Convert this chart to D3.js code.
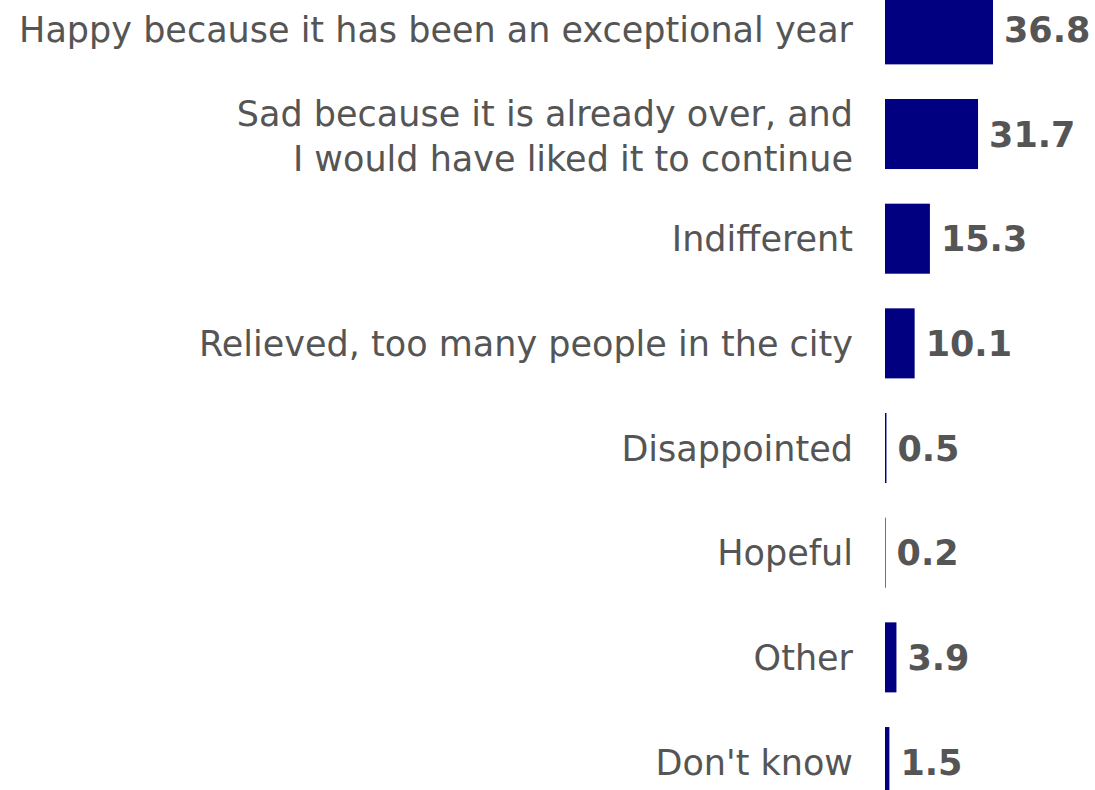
<!DOCTYPE html>
<html>
<head>
<meta charset="utf-8">
<script src="https://cdn.jsdelivr.net/npm/d3@7"></script>
<style>
  html, body { margin: 0; padding: 0; background: #fff; }
  svg { display: block; }
</style>
</head>
<body>
<svg id="chart" width="1095" height="790"></svg>
<script>
// Survey answers and their shares (%)
const categories = [
  "Happy because it has been an exceptional year",
  "Sad because it is already over, and\nI would have liked it to continue",
  "Indifferent",
  "Relieved, too many people in the city",
  "Disappointed",
  "Hopeful",
  "Other",
  "Don't know"
];
const values = [36.8, 31.7, 15.3, 10.1, 0.5, 0.2, 3.9, 1.5];
const valueLabels = ["36.8", "31.7", "15.3", "10.1", "0.5", "0.2", "3.9", "1.5"];

const svg = d3.select("#chart");
const fontFamily = "Verdana, 'DejaVu Sans', sans-serif";
const fontSize = 35;
const textColor = "#555555";

const x = d3.scaleLinear().domain([0, 36.8]).range([885, 993]);
const y = d3.scaleBand()
  .domain(d3.range(categories.length))
  .range([-40.3, 831.7])
  .padding(0.331);

const rows = svg.selectAll("g.row")
  .data(categories.map((c, i) => ({ c, v: values[i], t: valueLabels[i], i })))
  .join("g")
  .attr("class", "row");

// bars
rows.append("rect")
  .attr("x", x(0))
  .attr("y", d => y(d.i))
  .attr("width", d => x(d.v) - x(0))
  .attr("height", y.bandwidth())
  .attr("fill", "#000080");

// value labels at the end of each bar
rows.append("text")
  .attr("x", d => x(d.v) + 11)
  .attr("y", d => y(d.i) + y.bandwidth() / 2)
  .attr("dy", "0.36em")
  .attr("font-family", fontFamily)
  .attr("font-size", fontSize)
  .attr("font-weight", "bold")
  .attr("fill", textColor)
  .text(d => d.t);

// category labels, right-aligned before the bars
const labelX = 853;
const lineH = 45;
rows.append("text")
  .attr("text-anchor", "end")
  .attr("font-family", fontFamily)
  .attr("font-size", fontSize)
  .attr("fill", textColor)
  .each(function(d) {
    const lines = d.c.split("\n");
    const cy = y(d.i) + y.bandwidth() / 2 + 0.36 * fontSize;
    const top = cy - (lines.length - 1) * lineH / 2 + (lines.length > 1 ? 2 : 0);
    const t = d3.select(this);
    lines.forEach((ln, k) => {
      t.append("tspan")
        .attr("x", labelX)
        .attr("y", top + k * lineH)
        .text(ln);
    });
  });
</script>
</body>
</html>
